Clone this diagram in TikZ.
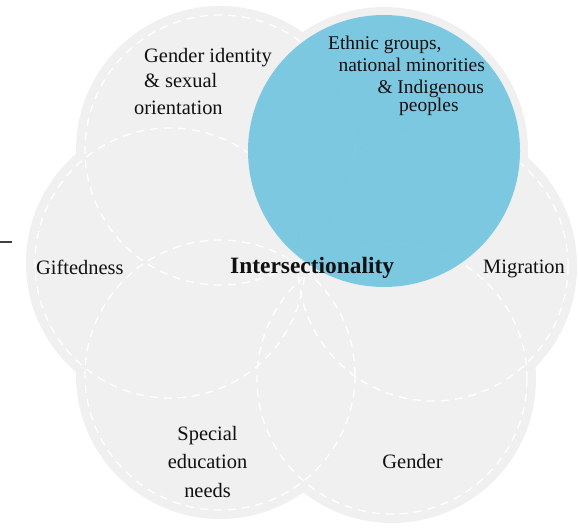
\documentclass[tikz,border=0pt]{standalone}
\usepackage{fontspec}
\setmainfont{Liberation Serif}
\usetikzlibrary{positioning}
\definecolor{petalgray}{HTML}{F0F0F0}
\definecolor{ethnicblue}{HTML}{74C5E0}
\definecolor{inkgray}{HTML}{101010}
\tikzstyle{petal}=[circle, fill=petalgray, minimum size=288bp, inner sep=0pt]
\tikzstyle{seam}=[draw=white, dash pattern=on 8bp off 6bp, line width=1.3bp]
\tikzstyle{focus}=[circle, fill=ethnicblue, fill opacity=0.92, minimum size=272bp, inner sep=0pt]
\tikzstyle{tag}=[font=\fontsize{20.5}{26}\selectfont, text=inkgray, inner sep=0pt]
\tikzstyle{smalltag}=[font=\fontsize{19.5}{22}\selectfont, text=inkgray, inner sep=0pt]

\begin{document}
\begin{tikzpicture}[x=1bp, y=-1bp]
  \useasboundingbox (0,0) rectangle (579,528);

  % six petals
  \node[petal] (gid) at (220,150) {};
  \node[petal] (eth) at (384,151) {};
  \node[petal] (mig) at (433,266) {};
  \node[petal] (gen) at (392,379) {};
  \node[petal] (sen) at (220,375) {};
  \node[petal] (gif) at (170,263) {};

  \foreach \p in {gid,eth,mig,gen,sen,gif}
    \draw[seam] (\p.center) circle (135bp);

  \node[focus] (ethfill) at (eth.center) {};

  % labels
  \node[tag, anchor=base west] (gid1) at (144,63) {Gender identity};
  \node[tag, anchor=base west] (gid2) at (144,88) {\& sexual};
  \node[tag, anchor=base west] (gid3) at (134,115) {orientation};

  \node[smalltag, anchor=base west] (eth1) at (328,50) {Ethnic groups,};
  \node[smalltag, anchor=base east] (eth2) at (485,72) {national minorities};
  \node[smalltag, anchor=base east] (eth3) at (484,94) {\& Indigenous};
  \node[smalltag, anchor=base west] (eth4) at (399,112) {peoples};

  \node[tag, anchor=base west] (gift) at (36,274) {Giftedness};
  \node[tag, anchor=base west] (migr) at (483,273) {Migration};
  \node[tag, anchor=base west, font=\fontsize{23.5}{28}\selectfont\bfseries]
    (inter) at (230,273) {Intersectionality};

  \node[tag, anchor=base] (sen1) at (207.5,440) {Special};
  \node[tag, anchor=base] (sen2) at (207.5,468) {education};
  \node[tag, anchor=base] (sen3) at (207.5,497) {needs};

  \node[tag, anchor=base] (gend) at (412.5,468) {Gender};

  % stray rule at the left edge
  \coordinate (rule0) at (0,242);
  \coordinate (rule1) at (12,242);
  \draw[line width=1.2bp, gray!50!black] (rule0) -- (rule1);
\end{tikzpicture}
\end{document}
